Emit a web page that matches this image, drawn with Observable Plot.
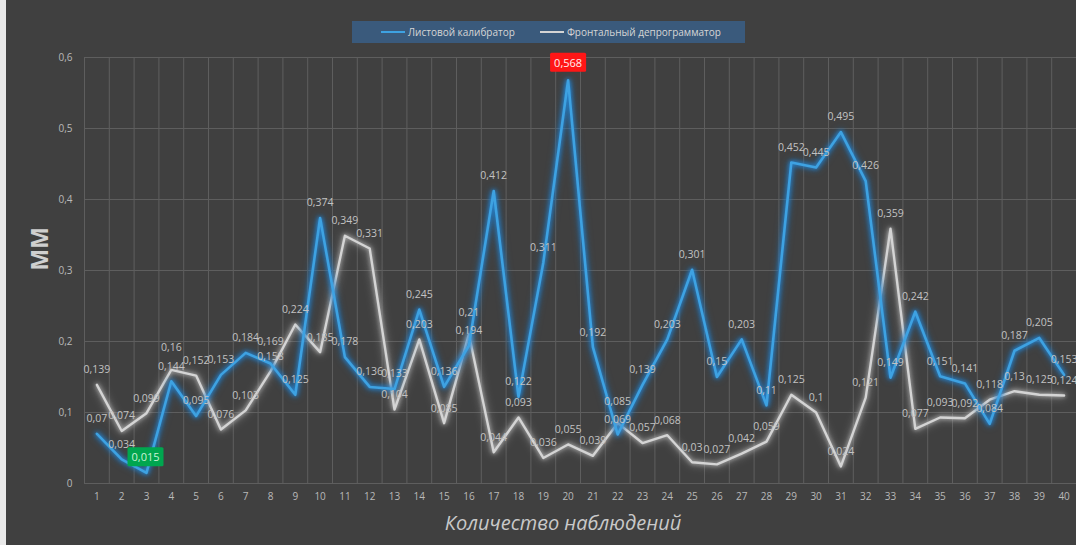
<!DOCTYPE html>
<html>
<head>
<meta charset="utf-8">
<script src="https://cdn.jsdelivr.net/npm/d3@7"></script>
<script src="https://cdn.jsdelivr.net/npm/@observablehq/plot@0.6"></script>
<style>
  html, body { margin: 0; padding: 0; background: #404040; }
  #chart { position: relative; width: 1076px; height: 545px; background: #404040; overflow: hidden; font-family: "Open Sans", "Noto Sans", sans-serif; }
  #chart::before { content: ""; position: absolute; left: 0; top: 0; bottom: 0; width: 6px; background: #e9e9e9; }
  .legend { height: 50px; box-sizing: border-box; padding-top: 21px; }
  .legend-box { margin-left: 352px; width: 393px; height: 22px; background: #3a5a7c; display: flex; align-items: center; font-size: 10px; color: #d6d6d6; box-sizing: border-box; padding-left: 29px; }
  .key { display: flex; align-items: center; white-space: nowrap; }
  .key + .key { margin-left: 25px; }
  .swatch { width: 24px; height: 2px; margin-right: 3px; }
  .xtitle { text-align: center; font-style: italic; font-size: 20px; color: #c9c9c9; line-height: 26px; margin-top: 0px; padding-left: 50px; }
  svg { display: block; }
</style>
</head>
<body>
<div id="chart">
  <div class="legend">
    <div class="legend-box" id="legend"></div>
  </div>
  <div id="plot"></div>
  <div class="xtitle" id="xtitle"></div>
</div>
<script>
// Observation numbers along the x axis
const observations = d3.range(1, 41);

// Measured gap, mm — sheet calibrator
const calibrator = [
  0.07, 0.034, 0.015, 0.144, 0.095, 0.153, 0.184, 0.169, 0.125, 0.374,
  0.178, 0.136, 0.133, 0.245, 0.136, 0.194, 0.412, 0.122, 0.311, 0.568,
  0.192, 0.069, 0.139, 0.203, 0.301, 0.15, 0.203, 0.11, 0.452, 0.445,
  0.495, 0.426, 0.149, 0.242, 0.151, 0.141, 0.084, 0.187, 0.205, 0.153
];

// Measured gap, mm — frontal deprogrammer
const deprogrammer = [
  0.139, 0.074, 0.099, 0.16, 0.152, 0.076, 0.103, 0.158, 0.224, 0.185,
  0.349, 0.331, 0.104, 0.203, 0.085, 0.21, 0.044, 0.093, 0.036, 0.055,
  0.039, 0.085, 0.057, 0.068, 0.03, 0.027, 0.042, 0.059, 0.125, 0.1,
  0.024, 0.121, 0.359, 0.077, 0.093, 0.092, 0.118, 0.13, 0.125, 0.124
];

const seriesNames = ["Листовой калибратор", "Фронтальный депрограмматор"];
const seriesColors = ["#3ea2e2", "#d4d4d4"];
const yTicks = [0, 0.1, 0.2, 0.3, 0.4, 0.5, 0.6];
const yTitle = "ММ";
const xTitle = "Количество наблюдений";

const comma = v => String(v).replace(".", ",");

// Where both series sit close together, the upper value's label is lifted a little
const close = (i) => Math.abs(calibrator[i] - deprogrammer[i]) < 0.02;
const rowsA = observations.map((n, i) => ({ n, v: calibrator[i], lift: close(i) && calibrator[i] > deprogrammer[i] }));
const rowsB = observations.map((n, i) => ({ n, v: deprogrammer[i], lift: close(i) && deprogrammer[i] > calibrator[i] }));
const iMax = d3.maxIndex(calibrator);
const iMin = d3.minIndex(calibrator);
const plainA = rowsA.filter((d, i) => i !== iMax && i !== iMin);

// Vertical grid between neighbouring observations
const boundaries = observations.map(n => n - 0.5).concat([observations.length + 0.5]);

const labelFont = { fontSize: 10.5, fill: "#c2c2c2", fontFamily: "Open Sans, sans-serif" };
const maxFill = "#fff0f0";
const minFill = "#c9f3d6";

const valueLabels = rows => [
  Plot.text(rows.filter(d => !d.lift), { x: "n", y: "v", text: d => comma(d.v), dy: -15, ...labelFont }),
  Plot.text(rows.filter(d => d.lift), { x: "n", y: "v", text: d => comma(d.v), dy: -22, ...labelFont })
];

const chart = Plot.plot({
  width: 1076,
  height: 460,
  marginLeft: 84,
  marginRight: 0,
  marginTop: 7,
  marginBottom: 27,
  style: { background: "transparent", color: "#b9b9b9", fontSize: "10px", fontFamily: "Open Sans, sans-serif" },
  x: { domain: [0.5, 40.5], ticks: observations, tickFormat: d => d, tickSize: 0, tickPadding: 9, label: null },
  y: { domain: [0, 0.6], ticks: yTicks, tickFormat: v => v === 0 ? "0" : v.toFixed(1).replace(".", ","), tickSize: 0, tickPadding: 12, label: null },
  marks: [
    Plot.gridY(yTicks, { stroke: "#5e5e5e", strokeOpacity: 1 }),
    Plot.ruleX(boundaries, { stroke: "#5e5e5e", strokeOpacity: 1 }),
    Plot.line(rowsB, { x: "n", y: "v", stroke: seriesColors[1], strokeWidth: 2.4 }),
    Plot.line(rowsA, { x: "n", y: "v", stroke: seriesColors[0], strokeWidth: 2.6 }),
    ...valueLabels(rowsB),
    ...valueLabels(plainA),
    Plot.text([rowsA[iMax]], { x: "n", y: "v", text: d => comma(d.v), dy: -17, fontSize: 11, fill: maxFill }),
    Plot.text([rowsA[iMin]], { x: "n", y: "v", text: d => comma(d.v), dy: -15, dx: -1, fontSize: 11, fill: minFill }),
    Plot.text([yTitle], { frameAnchor: "left", dx: -44, rotate: -90, fontSize: 23, fontWeight: "bold", fill: "#cfcfcf" })
  ]
});

document.getElementById("plot").appendChild(chart);

// Soft glow around both lines
chart.querySelectorAll(`g[stroke="${seriesColors[0]}"] path`).forEach(p => {
  p.style.filter = "drop-shadow(0 0 2px #2a8fe0) drop-shadow(0 0 3px #1b6fb5)";
});
chart.querySelectorAll(`g[stroke="${seriesColors[1]}"] path`).forEach(p => {
  p.style.filter = "drop-shadow(0 0 2px #c4c4c4) drop-shadow(0 0 4px #8a8a8a)";
});

// Coloured boxes behind the extreme values
[[maxFill, "#ff1616"], [minFill, "#00a64f"]].forEach(([fill, color]) => {
  chart.querySelectorAll(`g[fill="${fill}"] text`).forEach(t => {
    const b = t.getBBox();
    const r = document.createElementNS("http://www.w3.org/2000/svg", "rect");
    r.setAttribute("x", b.x - 4);
    r.setAttribute("y", b.y - 2);
    r.setAttribute("width", b.width + 8);
    r.setAttribute("height", b.height + 4);
    r.setAttribute("fill", color);
    r.setAttribute("rx", 1.5);
    if (t.getAttribute("transform")) r.setAttribute("transform", t.getAttribute("transform"));
    t.parentNode.insertBefore(r, t);
  });
});

// Legend
const legend = document.getElementById("legend");
seriesNames.forEach((name, i) => {
  const key = document.createElement("div");
  key.className = "key";
  const sw = document.createElement("span");
  sw.className = "swatch";
  sw.style.background = seriesColors[i];
  const label = document.createElement("span");
  label.textContent = name;
  key.appendChild(sw);
  key.appendChild(label);
  legend.appendChild(key);
});

document.getElementById("xtitle").textContent = xTitle;
</script>
</body>
</html>
